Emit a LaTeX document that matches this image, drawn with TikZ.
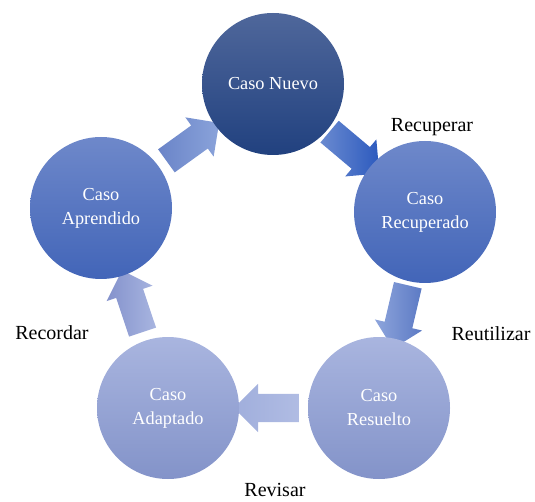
\documentclass[tikz,border=0pt]{standalone}
\usepackage{fontspec}
\setmainfont{Liberation Serif}
\usetikzlibrary{shapes.arrows,backgrounds}

\definecolor{nuevoTop}{HTML}{4F679B}
\definecolor{nuevoBot}{HTML}{21417F}
\definecolor{recupTop}{HTML}{6E88CA}
\definecolor{recupBot}{HTML}{4265B8}
\definecolor{claroTop}{HTML}{A9B5DF}
\definecolor{claroBot}{HTML}{8393C9}
% colores de las flechas (cola, punta)
\definecolor{fUnoA}{HTML}{6A8AD0}
\definecolor{fUnoB}{HTML}{2C5ABE}
\definecolor{fDosA}{HTML}{8EA5DC}
\definecolor{fDosB}{HTML}{5C7AC4}
\definecolor{fTresA}{HTML}{A0AEDC}
\definecolor{fTresB}{HTML}{B0BCE3}
\definecolor{fCuatroA}{HTML}{8492CC}
\definecolor{fCuatroB}{HTML}{A8B5E0}
\definecolor{fCincoA}{HTML}{6A84C8}
\definecolor{fCincoB}{HTML}{8AA3DA}

\tikzset{
  caso/.style={circle, minimum size=142pt, inner sep=0pt, align=center,
    text=white, font=\fontsize{18.3}{24}\selectfont},
  flecha/.style={single arrow, minimum height=65pt, text height=0pt, text depth=0pt,
    inner xsep=0pt, inner ysep=14pt,
    single arrow head extend=10pt, single arrow head indent=0pt,
    midway, sloped, allow upside down},
  paso/.style={font=\fontsize{20}{24}\selectfont}
}

\begin{document}
\begin{tikzpicture}[x=1pt,y=-1pt]
  \useasboundingbox (0,0) rectangle (535,502);
  % los cinco casos
  \node[caso, top color=nuevoTop, bottom color=nuevoBot] (nuevo) at (273,84) {Caso Nuevo};
  \node[caso, top color=recupTop, bottom color=recupBot] (recuperado) at (425,212) {Caso\\Recuperado};
  \node[caso, top color=claroTop, bottom color=claroBot] (resuelto) at (379,408) {Caso\\Resuelto};
  \node[caso, top color=claroTop, bottom color=claroBot] (adaptado) at (168,408) {Caso\\Adaptado};
  \node[caso, top color=recupTop, bottom color=recupBot] (aprendido) at (101,208) {Caso\\Aprendido};
  % flechas del ciclo
  \begin{scope}[on background layer]
    \path (nuevo) -- node[flecha, left color=fUnoA, right color=fUnoB] (f1) {} (recuperado);
    \path (recuperado) -- node[flecha, left color=fDosA, right color=fDosB] (f2) {} (resuelto);
    \path (resuelto) -- node[flecha, left color=fTresA, right color=fTresB] (f3) {} (adaptado);
    \path (adaptado) -- node[flecha, left color=fCuatroA, right color=fCuatroB] (f4) {} (aprendido);
    \path (aprendido) -- node[flecha, left color=fCincoA, right color=fCincoB] (f5) {} (nuevo);
  \end{scope}
  % etapas
  \node[paso] (recuperar) at (432,127) {Recuperar};
  \node[paso] (reutilizar) at (491,334) {Reutilizar};
  \node[paso] (revisar) at (275,490) {Revisar};
  \node[paso] (recordar) at (52,333) {Recordar};
\end{tikzpicture}
\end{document}
